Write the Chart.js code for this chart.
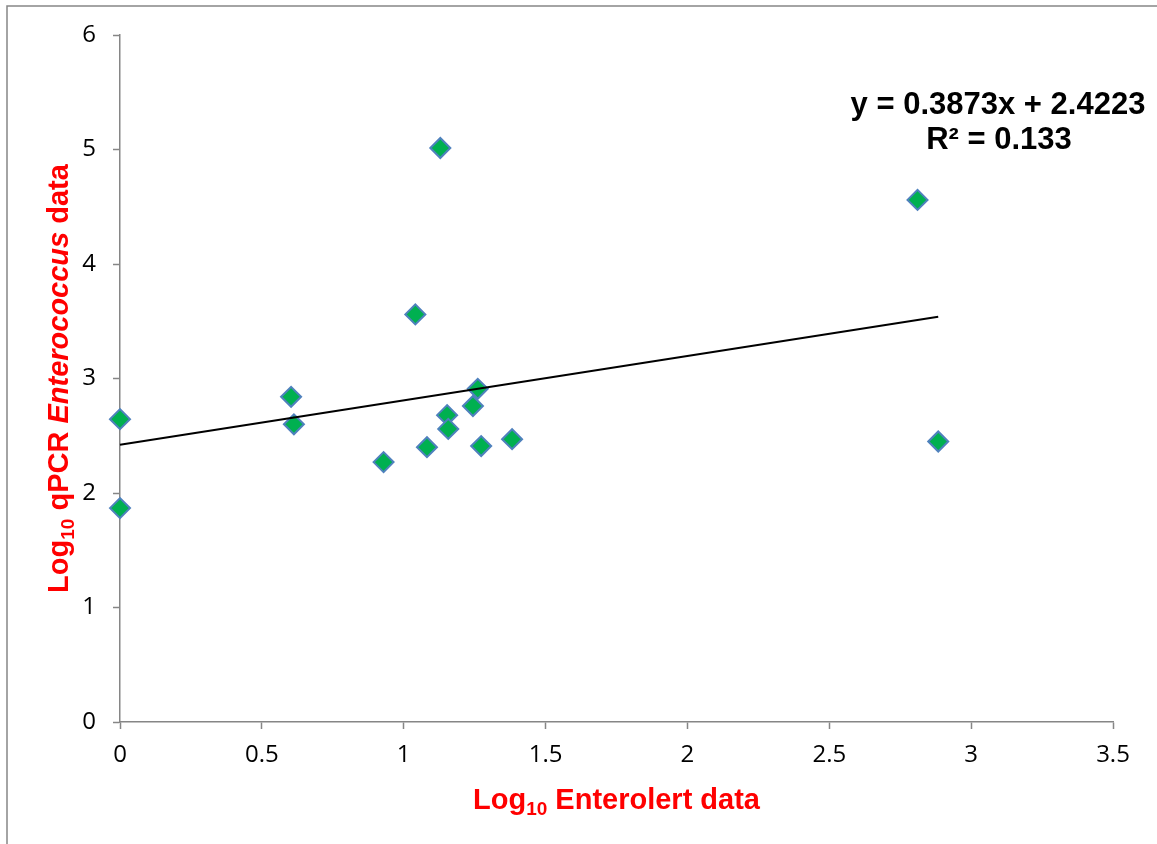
<!DOCTYPE html>
<html>
<head>
<meta charset="utf-8">
<script src="https://cdn.jsdelivr.net/npm/chart.js@4.4.0/dist/chart.umd.min.js"></script>
<style>
  html, body { margin: 0; padding: 0; background: #fff; }
  #wrap { width: 1157px; height: 844px; }
</style>
</head>
<body>
<div id="wrap"><canvas id="scatterChart" width="1157" height="844"></canvas></div>
<script>
// ---- data ----
const enterolertLog = [0, 0, 0.603, 0.613, 0.929, 1.041, 1.082, 1.129, 1.153, 1.157, 1.244, 1.261, 1.273, 1.382, 2.811, 2.884];
const qpcrLog       = [2.645, 1.868, 2.84, 2.60, 2.27, 3.56, 2.40, 5.013, 2.68, 2.56, 2.76, 2.91, 2.41, 2.47, 4.56, 2.45];
const xTicks = [0, 0.5, 1, 1.5, 2, 2.5, 3, 3.5];
const yTicks = [0, 1, 2, 3, 4, 5, 6];
const trendSlope = 0.3873;
const trendIntercept = 2.4223;
const eqLines = ["y = 0.3873x + 2.4223", "R\u00B2 = 0.133"];

const AXIS_GREY = "#868686";
const RED = "#FF0000";

const points = enterolertLog.map((x, i) => ({ x: x, y: qpcrLog[i] }));
const xMaxData = Math.max(...enterolertLog);
const trend = [
  { x: 0, y: trendIntercept },
  { x: xMaxData, y: trendIntercept + trendSlope * xMaxData }
];

// draw text made of several runs (normal / sub / italic), centred on cx
function drawRuns(ctx, runs, cx, baseline) {
  let total = 0;
  runs.forEach(r => { ctx.font = r.font; r.w = ctx.measureText(r.text).width; total += r.w; });
  let x = cx - total / 2;
  ctx.textAlign = "left";
  ctx.textBaseline = "alphabetic";
  runs.forEach(r => {
    ctx.font = r.font;
    ctx.fillText(r.text, x, baseline + (r.dy || 0));
    x += r.w;
  });
}

const decorPlugin = {
  id: "decor",
  beforeDraw(chart) {
    const ctx = chart.ctx;
    ctx.save();
    ctx.fillStyle = "#fff";
    ctx.fillRect(0, 0, chart.width, chart.height);
    // outer frame (only left and top visible in the reference)
    ctx.strokeStyle = AXIS_GREY;
    ctx.lineWidth = 1.5;
    ctx.beginPath();
    ctx.moveTo(7, chart.height);
    ctx.lineTo(7, 6);
    ctx.lineTo(chart.width, 6);
    ctx.stroke();
    ctx.restore();
  },
  afterDraw(chart) {
    const ctx = chart.ctx;
    const area = chart.chartArea;
    ctx.save();
    ctx.fillStyle = RED;
    const bold = "bold 29px 'Liberation Sans', Arial, sans-serif";
    const sub = "bold 19px 'Liberation Sans', Arial, sans-serif";
    const boldIt = "italic bold 29px 'Liberation Sans', Arial, sans-serif";

    // x axis title
    drawRuns(ctx, [
      { text: "Log", font: bold },
      { text: "10", font: sub, dy: 6 },
      { text: " Enterolert data", font: bold }
    ], (area.left + area.right) / 2, 809);

    // y axis title (rotated)
    ctx.save();
    ctx.translate(68, (area.top + area.bottom) / 2);
    ctx.rotate(-Math.PI / 2);
    drawRuns(ctx, [
      { text: "Log", font: bold },
      { text: "10", font: sub, dy: 6 },
      { text: " qPCR ", font: bold },
      { text: "Enterococcus", font: boldIt },
      { text: " data", font: bold }
    ], 0, 0);
    ctx.restore();

    // trendline equation
    ctx.fillStyle = "#000";
    ctx.font = "bold 31px 'Liberation Sans', Arial, sans-serif";
    ctx.textAlign = "center";
    ctx.textBaseline = "alphabetic";
    ctx.fillText(eqLines[0], 998, 114);
    ctx.fillText(eqLines[1], 999, 149);
    ctx.restore();
  }
};

const tickFont = { family: "'Open Sans', Lato, sans-serif", size: 24 };

new Chart(document.getElementById("scatterChart"), {
  type: "scatter",
  data: {
    datasets: [
      {
        type: "line",
        label: "Linear trend",
        data: trend,
        borderColor: "#000",
        borderWidth: 2,
        pointRadius: 0,
        fill: false,
        clip: false,
        order: 0
      },
      {
        label: "Samples",
        data: points,
        pointStyle: "rectRot",
        pointRadius: 10,
        pointBackgroundColor: "#00B050",
        pointBorderColor: "#4F81BD",
        pointBorderWidth: 2,
        clip: false,
        order: 1
      }
    ]
  },
  options: {
    responsive: false,
    animation: false,
    layout: { padding: { left: 0, right: 44, top: 35, bottom: 0 } },
    plugins: {
      legend: { display: false },
      tooltip: { enabled: false }
    },
    scales: {
      x: {
        type: "linear",
        min: 0,
        max: 3.5,
        afterBuildTicks(scale) { scale.ticks = xTicks.map(v => ({ value: v })); },
        afterFit(scale) { scale.height = 122; },
        ticks: { font: tickFont, color: "#000", padding: 12, maxRotation: 0, callback: v => String(v) },
        grid: { drawOnChartArea: false, drawTicks: true, tickLength: 7, tickColor: AXIS_GREY, tickWidth: 1.5 },
        border: { display: true, color: AXIS_GREY, width: 1.5 },
        title: { display: false }
      },
      y: {
        type: "linear",
        min: 0,
        max: 6,
        afterBuildTicks(scale) { scale.ticks = yTicks.map(v => ({ value: v })); },
        afterFit(scale) { scale.width = 120; },
        ticks: { font: tickFont, color: "#000", padding: 17, callback: v => String(v) },
        grid: { drawOnChartArea: false, drawTicks: true, tickLength: 7, tickColor: AXIS_GREY, tickWidth: 1.5 },
        border: { display: true, color: AXIS_GREY, width: 1.5 },
        title: { display: false }
      }
    }
  },
  plugins: [decorPlugin]
});
</script>
</body>
</html>
